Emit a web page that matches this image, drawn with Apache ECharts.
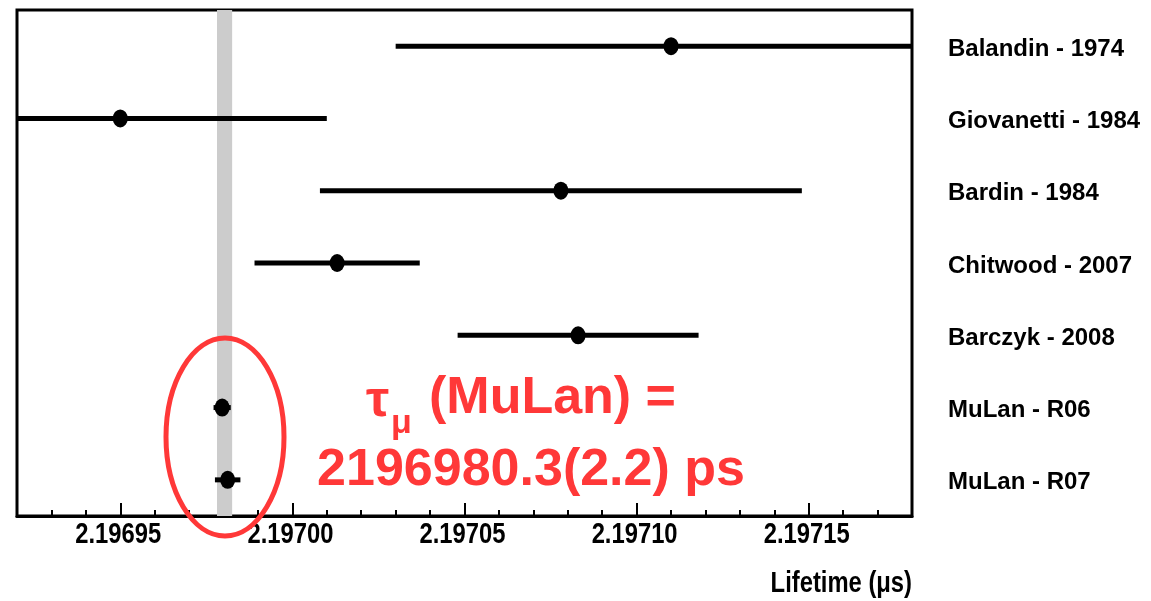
<!DOCTYPE html>
<html>
<head>
<meta charset="utf-8">
<script src="https://cdn.jsdelivr.net/npm/echarts@6/dist/echarts.min.js"></script>
<style>
html,body{margin:0;padding:0;background:#fff;}
#chart{width:1151px;height:601px;}
</style>
</head>
<body>
<div id="chart"></div>
<script>
// ---- data ----
const categories = ['Balandin - 1974','Giovanetti - 1984','Bardin - 1984','Chitwood - 2007','Barczyk - 2008','MuLan - R06','MuLan - R07'];
const lifetimes  = [2.19711, 2.19695, 2.197078, 2.197013, 2.197083, 2.1969796, 2.1969812];
const errors     = [0.00008, 0.00006, 0.00007, 0.000024, 0.000035, 0.0000025, 0.0000037];
const mulanValue = 2.1969803;
const mulanError = 0.0000022;
const xMin = 2.19692;
const xMax = 2.19718;
const majorTicks = [2.19695, 2.19700, 2.19705, 2.19710, 2.19715];
const majorTickLabels = ['2.19695', '2.19700', '2.19705', '2.19710', '2.19715'];
const minorTicks = [2.19693, 2.19694, 2.19696, 2.19697, 2.19698, 2.19699, 2.19701, 2.19702, 2.19703, 2.19704,
                    2.19706, 2.19707, 2.19708, 2.19709, 2.19711, 2.19712, 2.19713, 2.19714, 2.19716, 2.19717];
const axisTitle = 'Lifetime (μs)';

const FONT = "'Liberation Sans', Arial, sans-serif";
const RED = '#ff3838';
const NARROW = 0.82;

const barData = lifetimes.map((v, i) => [v - errors[i], v + errors[i], i]);
const pointData = lifetimes.map((v, i) => [v, i]);

const chart = echarts.init(document.getElementById('chart'), null, {renderer: 'canvas'});
chart.setOption({
  animation: false,
  backgroundColor: '#fff',
  grid: {left: 17, right: 239, top: 10, bottom: 85, show: true, borderColor: '#000', borderWidth: 3, backgroundColor: 'transparent'},
  xAxis: [{
    type: 'value', min: xMin, max: xMax, gridIndex: 0, position: 'bottom',
    axisLine: {show: true, lineStyle: {color: '#000', width: 3}},
    axisTick: {show: true, inside: true, length: 13, customValues: majorTicks, lineStyle: {color: '#000', width: 2}},
    axisLabel: {show: false},
    splitLine: {show: false}
  }, {
    type: 'value', min: xMin, max: xMax, gridIndex: 0, position: 'bottom',
    axisLine: {show: false},
    axisTick: {show: true, inside: true, length: 6, customValues: minorTicks, lineStyle: {color: '#000', width: 2}},
    axisLabel: {show: false},
    splitLine: {show: false}
  }],
  yAxis: {
    type: 'category', data: categories, inverse: true, position: 'right',
    axisLine: {show: false}, axisTick: {show: false}, splitLine: {show: false},
    axisLabel: {show: true, margin: 36, formatter: v => '{a|' + v + '}',
      rich: {a: {color: '#000', fontFamily: FONT, fontWeight: 'bold', fontSize: 24, padding: [6, 0, 0, 0]}}}
  },
  series: [{
    type: 'line', data: [], z: 1, silent: true,
    markArea: {silent: true, itemStyle: {color: '#cccccc'},
      data: [[{xAxis: mulanValue - mulanError}, {xAxis: mulanValue + mulanError}]]}
  }, {
    type: 'custom', z: 3, data: barData, encode: {x: [0, 1], y: 2},
    renderItem: function (params, api) {
      const p1 = api.coord([api.value(0), api.value(2)]);
      const p2 = api.coord([api.value(1), api.value(2)]);
      const cs = params.coordSys;
      const rect = echarts.graphic.clipRectByRect(
        {x: p1[0], y: p1[1] - 2.5, width: p2[0] - p1[0], height: 5},
        {x: cs.x, y: cs.y, width: cs.width, height: cs.height});
      return rect && {type: 'rect', shape: rect, style: {fill: '#000'}};
    }
  }, {
    type: 'scatter', z: 4, data: pointData, symbol: 'circle', symbolSize: [15, 18],
    itemStyle: {color: '#000', opacity: 1}
  }]
});

// x tick labels and axis title: real text, positioned through the chart's own scale, condensed like the original
const graphics = [];
majorTicks.forEach((v, i) => {
  const px = chart.convertToPixel({xAxisIndex: 0}, v);
  graphics.push({type: 'text', z: 100, x: px - 2, y: 535, scaleX: NARROW,
    style: {text: majorTickLabels[i], align: 'center', verticalAlign: 'middle', fontFamily: FONT, fontWeight: 'bold', fontSize: 29, fill: '#000'}});
});
graphics.push({type: 'text', z: 100, x: chart.convertToPixel({xAxisIndex: 0}, xMax), y: 584, scaleX: NARROW,
  style: {text: axisTitle, align: 'right', verticalAlign: 'middle', fontFamily: FONT, fontWeight: 'bold', fontSize: 29, fill: '#000'}});

// annotation
graphics.push(
  {type: 'ellipse', z: 100, shape: {cx: 225, cy: 437, rx: 59, ry: 99},
    style: {fill: 'none', stroke: RED, lineWidth: 5}},
  {type: 'text', z: 100, x: 366, y: 402,
    style: {text: 'τ', align: 'left', verticalAlign: 'middle', fontFamily: FONT, fontWeight: 'bold', fontSize: 52, fill: RED}},
  {type: 'text', z: 100, x: 391, y: 424,
    style: {text: 'μ', align: 'left', verticalAlign: 'middle', fontFamily: FONT, fontWeight: 'bold', fontSize: 34, fill: RED}},
  {type: 'text', z: 100, x: 429, y: 399,
    style: {text: '(MuLan) =', align: 'left', verticalAlign: 'middle', fontFamily: FONT, fontWeight: 'bold', fontSize: 52, fill: RED}},
  {type: 'text', z: 100, x: 531, y: 471,
    style: {text: '2196980.3(2.2) ps', align: 'center', verticalAlign: 'middle', fontFamily: FONT, fontWeight: 'bold', fontSize: 52, fill: RED}}
);
chart.setOption({graphic: graphics});
</script>
</body>
</html>
